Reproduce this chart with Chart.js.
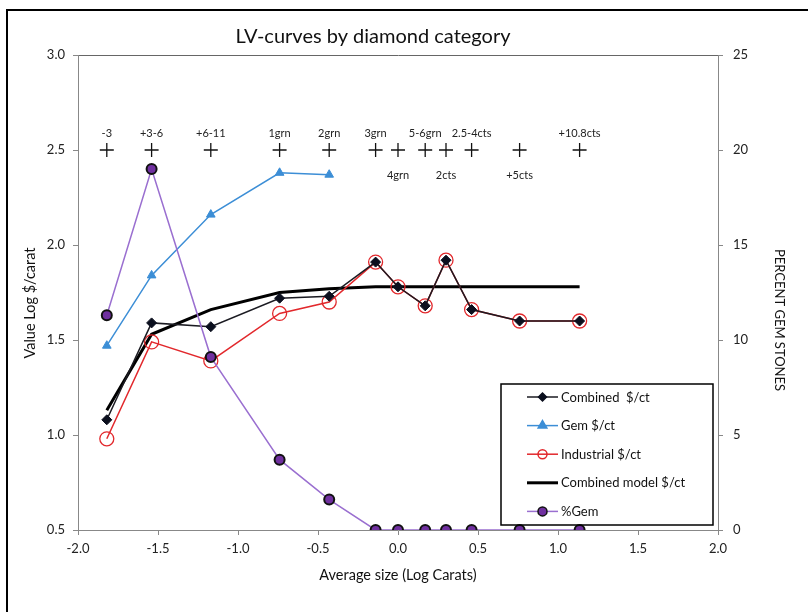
<!DOCTYPE html>
<html>
<head>
<meta charset="utf-8">
<title>LV-curves by diamond category</title>
<script src="https://cdn.jsdelivr.net/npm/chart.js@4.4.1/dist/chart.umd.min.js"></script>
<style>
  html, body { margin: 0; padding: 0; background: #fff; }
  #wrap { width: 808px; height: 612px; }
</style>
</head>
<body>
<div id="wrap"><canvas id="lv" width="808" height="612"></canvas></div>
<script>
// average stone size per sieve class (log carats)
const sizes = [-1.82, -1.54, -1.17, -0.74, -0.43, -0.14, 0.0, 0.17, 0.30, 0.46, 0.76, 1.135];
const sizeClasses = ['-3', '+3-6', '+6-11', '1grn', '2grn', '3grn', '4grn', '5-6grn', '2cts', '2.5-4cts', '+5cts', '+10.8cts'];

// log $/carat
const combined = [1.08, 1.59, 1.57, 1.72, 1.73, 1.91, 1.78, 1.68, 1.92, 1.66, 1.60, 1.60];
const gem = [1.47, 1.84, 2.16, 2.38, 2.37];
const industrial = [0.98, 1.49, 1.39, 1.64, 1.70, 1.91, 1.78, 1.68, 1.92, 1.66, 1.60, 1.60];
const model = [1.13, 1.53, 1.66, 1.75, 1.77, 1.78, 1.78, 1.78, 1.78, 1.78, 1.78, 1.78];

// percent gem stones (right axis)
const pctGem = [11.3, 19.0, 9.1, 3.7, 1.6, 0, 0, 0, 0, 0, 0, 0];

// the row of + marks carrying the class names
const classRow = 2.5;

const xTicks = [-2.0, -1.5, -1.0, -0.5, 0.0, 0.5, 1.0, 1.5, 2.0];
const yTicks = [0.5, 1.0, 1.5, 2.0, 2.5, 3.0];
const y2Ticks = [0, 5, 10, 15, 20, 25];

const FONT = 'Lato, "Open Sans", sans-serif';
const pts = (vals) => vals.map((v, i) => ({ x: sizes[i], y: v }));

// class names sitting under their + rather than over it (too crowded)
const labelsBelow = ['4grn', '2cts', '+5cts'];

const extras = {
  id: 'extras',
  afterDraw(chart) {
    const { ctx, chartArea: a, scales } = chart;
    ctx.save();

    // outer frame (left and top only show in the picture)
    ctx.strokeStyle = '#000';
    ctx.lineWidth = 2;
    ctx.beginPath();
    ctx.moveTo(7, 612);
    ctx.lineTo(7, 10);
    ctx.lineTo(808, 10);
    ctx.stroke();

    ctx.fillStyle = '#111';
    ctx.textAlign = 'center';
    ctx.textBaseline = 'middle';

    ctx.font = '20px ' + FONT;
    ctx.fillText('LV-curves by diamond category', 373, 37);

    ctx.font = '14.5px ' + FONT;
    ctx.fillText('Average size (Log Carats)', (a.left + a.right) / 2, 575);

    ctx.save();
    ctx.translate(30, 303);
    ctx.rotate(-Math.PI / 2);
    ctx.fillText('Value Log $/carat', 0, 0);
    ctx.restore();

    ctx.font = '13px ' + FONT;
    ctx.save();
    ctx.translate(779, 320);
    ctx.rotate(Math.PI / 2);
    ctx.fillText('PERCENT GEM STONES', 0, 0);
    ctx.restore();

    // class names at the + row
    ctx.font = '11px ' + FONT;
    ctx.fillStyle = '#222';
    const yRow = scales.y.getPixelForValue(classRow);
    sizeClasses.forEach((name, i) => {
      const px = scales.x.getPixelForValue(sizes[i]);
      const below = labelsBelow.includes(name);
      ctx.fillText(name, px, below ? yRow + 25 : yRow - 17);
    });

    // legend box
    const box = { left: 501, top: 384, width: 212, height: 141 };
    ctx.strokeStyle = '#000';
    ctx.lineWidth = 1.5;
    ctx.strokeRect(box.left, box.top, box.width, box.height);

    ctx.font = '13px ' + FONT;
    ctx.textAlign = 'left';
    const items = chart.data.datasets.filter(d => d.inLegend);
    items.forEach((d, i) => {
      const cy = box.top + 13 + i * 28.6;
      ctx.strokeStyle = d.borderColor;
      ctx.lineWidth = d.borderWidth;
      ctx.beginPath();
      ctx.moveTo(527, cy);
      ctx.lineTo(558, cy);
      ctx.stroke();
      if (d.pointRadius > 0) {
        ctx.fillStyle = d.pointBackgroundColor;
        ctx.strokeStyle = d.pointBorderColor;
        Chart.helpers.drawPoint(ctx, {
          pointStyle: d.pointStyle,
          rotation: 0,
          radius: d.legendRadius,
          borderWidth: d.pointBorderWidth
        }, 542.5, cy);
      }
      ctx.fillStyle = '#111';
      ctx.fillText(d.label, 561, cy + 0.5);
    });

    ctx.restore();
  }
};

const tickFont = { family: FONT, size: 13 };

new Chart(document.getElementById('lv'), {
  type: 'scatter',
  data: {
    datasets: [
      {
        label: 'Combined  $/ct',
        data: pts(combined),
        showLine: true,
        borderColor: '#1b1b22',
        borderWidth: 1.5,
        pointStyle: 'rectRot',
        pointRadius: 5,
        legendRadius: 4,
        pointBackgroundColor: '#0b0f1e',
        pointBorderColor: '#0b0f1e',
        pointBorderWidth: 1,
        order: 2,
        inLegend: true
      },
      {
        label: 'Gem $/ct',
        data: pts(gem),
        showLine: true,
        borderColor: '#3c8ed6',
        borderWidth: 1.5,
        pointStyle: 'triangle',
        pointRadius: 5,
        legendRadius: 5,
        pointBackgroundColor: '#3c8ed6',
        pointBorderColor: '#3c8ed6',
        pointBorderWidth: 1,
        order: 4,
        inLegend: true
      },
      {
        label: 'Industrial $/ct',
        data: pts(industrial),
        showLine: true,
        borderColor: '#e2282c',
        borderWidth: 1.5,
        pointStyle: 'circle',
        pointRadius: 7,
        legendRadius: 4.5,
        pointBackgroundColor: 'rgba(255,255,255,0)',
        pointBorderColor: '#e2282c',
        pointBorderWidth: 1.3,
        order: 3,
        inLegend: true
      },
      {
        label: 'Combined model $/ct',
        data: pts(model),
        showLine: true,
        borderColor: '#000',
        borderWidth: 3,
        pointRadius: 0,
        legendRadius: 0,
        pointBackgroundColor: '#000',
        pointBorderColor: '#000',
        pointBorderWidth: 0,
        order: 5,
        inLegend: true
      },
      {
        label: '%Gem',
        data: pts(pctGem),
        yAxisID: 'y2',
        showLine: true,
        borderColor: '#9a6fd0',
        borderWidth: 1.5,
        pointStyle: 'circle',
        pointRadius: 5,
        legendRadius: 4.5,
        pointBackgroundColor: '#7030a0',
        pointBorderColor: '#111',
        pointBorderWidth: 2,
        order: 1,
        inLegend: true
      },
      {
        label: 'classes',
        data: sizes.map(s => ({ x: s, y: classRow })),
        showLine: false,
        pointStyle: 'cross',
        pointRadius: 7,
        borderColor: '#111',
        pointBorderColor: '#111',
        pointBorderWidth: 1.3,
        order: 0
      }
    ]
  },
  options: {
    responsive: false,
    animation: false,
    devicePixelRatio: 1,
    layout: { padding: { top: 55, left: 10, right: 10, bottom: 0 } },
    plugins: {
      legend: { display: false },
      tooltip: { enabled: false },
      title: { display: false }
    },
    scales: {
      x: {
        type: 'linear',
        min: -2,
        max: 2,
        afterFit: (s) => { s.height = 82; },
        afterBuildTicks: (s) => { s.ticks = xTicks.map(v => ({ value: v })); },
        ticks: {
          font: tickFont,
          color: '#222',
          padding: 6,
          maxRotation: 0,
          callback: (v) => Number(v).toFixed(1)
        },
        grid: { drawOnChartArea: false, tickLength: 5, tickColor: '#888' },
        border: { color: '#888', width: 1 }
      },
      y: {
        position: 'left',
        min: 0.5,
        max: 3.0,
        afterFit: (s) => { s.width = 68; },
        afterBuildTicks: (s) => { s.ticks = yTicks.map(v => ({ value: v })); },
        ticks: {
          font: tickFont,
          color: '#222',
          padding: 8,
          callback: (v) => Number(v).toFixed(1)
        },
        grid: {
          drawOnChartArea: true,
          color: (c) => (c.tick && c.tick.value === 3 ? '#666' : 'rgba(0,0,0,0)'),
          tickColor: '#888',
          tickLength: 5
        },
        border: { color: '#888', width: 1 }
      },
      y2: {
        position: 'right',
        min: 0,
        max: 25,
        afterFit: (s) => { s.width = 80; },
        afterBuildTicks: (s) => { s.ticks = y2Ticks.map(v => ({ value: v })); },
        ticks: {
          font: tickFont,
          color: '#222',
          padding: 10,
          callback: (v) => String(v)
        },
        grid: { drawOnChartArea: false, tickColor: '#888', tickLength: 5 },
        border: { color: '#888', width: 1 }
      }
    }
  },
  plugins: [extras]
});
</script>
</body>
</html>
